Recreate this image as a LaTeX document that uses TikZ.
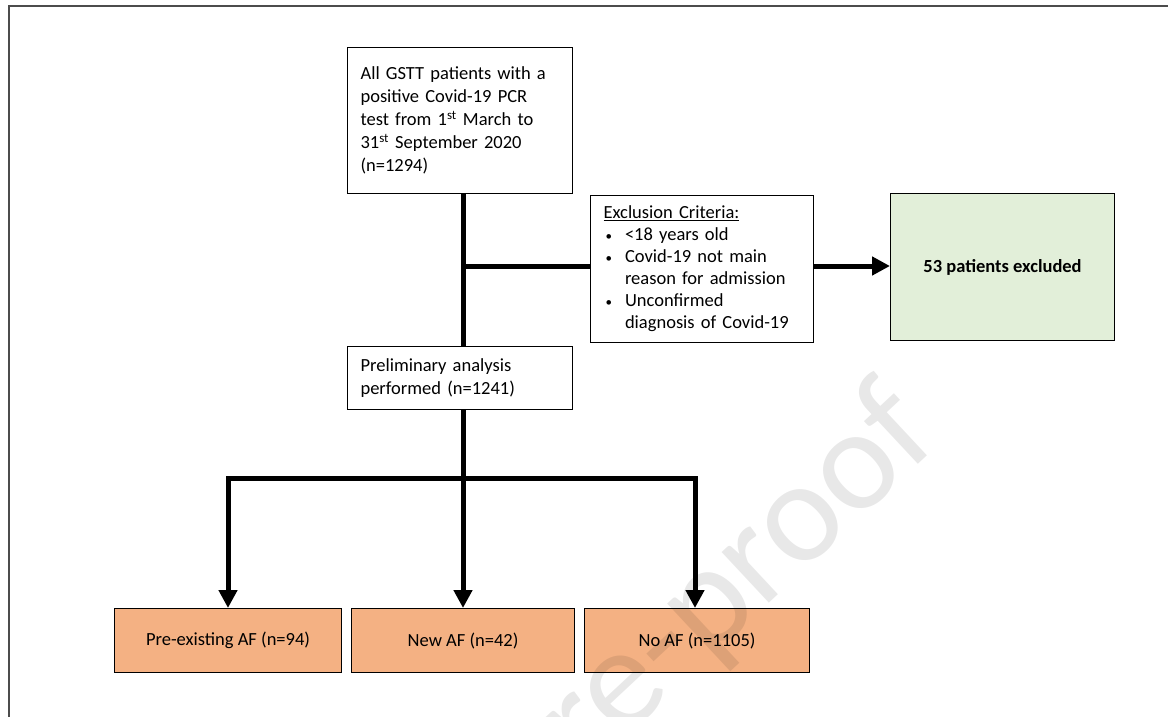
\documentclass[tikz,border=0pt]{standalone}
\usepackage{fontspec}
\setmainfont{Carlito}
\usetikzlibrary{arrows.meta}
\definecolor{orangefill}{HTML}{F4B183}
\definecolor{greenfill}{HTML}{E2EFD9}
\newcommand{\smallbullet}{{\fontsize{13}{13}\selectfont\textbullet}}
\begin{document}
\begin{tikzpicture}[x=1pt,y=-1pt,
  box/.style={draw=black, line width=1.1pt, inner sep=0pt, font=\fontsize{18.5}{23}\selectfont},
  lbox/.style={box, align=left, inner xsep=13pt},
  resbox/.style={box, fill=orangefill, anchor=north west, minimum height=64pt},
  link/.style={line width=5pt},
  tip/.tip={Triangle[length=18pt,width=18pt]},
  arr/.style={link, -tip},
  wmark/.style={text=black, text opacity=0.09, font=\fontsize{145}{145}\selectfont}
]
\useasboundingbox (0,0) rectangle (1168,717);
\fill[white] (0,0) rectangle (1168,717);
\draw[line width=1.6pt, black!70] (9,717) -- (9,6) -- (1168,6);

\node[lbox, anchor=north west, minimum width=225pt, minimum height=146pt, text width=199pt] (all) at (347,47)
  {All GSTT patients with a\\ positive Covid-19 PCR\\ test from 1\textsuperscript{st} March to\\ 31\textsuperscript{st} September 2020\\ (n=1294)};

\node[lbox, anchor=north west, minimum width=223pt, minimum height=147pt, text width=197pt] (excl) at (590,195)
  {\fontsize{18.5}{22}\selectfont
   \begin{tabular}{@{\hspace{2pt}}l@{\hspace{13pt}}l@{}}
   \multicolumn{2}{@{}l@{}}{\underline{Exclusion Criteria:}}\\
   \smallbullet & <18 years old\\
   \smallbullet & Covid-19 not main\\
                & reason for admission\\
   \smallbullet & Unconfirmed\\
                & diagnosis of Covid-19
   \end{tabular}};

\node[box, fill=greenfill, anchor=north west, minimum width=224pt, minimum height=147pt, font=\fontsize{18.5}{23}\selectfont\bfseries] (excluded) at (890,193)
  {53 patients excluded};

\node[lbox, anchor=north west, minimum width=225pt, minimum height=63pt, text width=199pt] (prelim) at (347,346)
  {Preliminary analysis\\ performed (n=1241)};

\node[resbox, minimum width=227pt] (preaf) at (114,608) {Pre-existing AF (n=94)};
\node[resbox, minimum width=223pt] (newaf) at (351,608) {New AF (n=42)};
\node[resbox, minimum width=225pt] (noaf) at (584,608) {No AF (n=1105)};

\coordinate (j1) at (463,266);
\coordinate (j2) at (463,478);
\coordinate (bl) at (228,478);
\coordinate (br) at (695,478);

\draw[link] (all.south -| j1) -- (prelim.north -| j1);
\draw[link] (j1) -- (excl.west |- j1);
\draw[arr] (excl.east |- j1) -- (excluded.west |- j1);
\draw[link] (prelim.south -| j2) -- (j2);
\draw[link, tip-tip] (preaf.north -| bl) -- (bl) -- (br) -- (noaf.north -| br);
\draw[arr] (j2) -- (newaf.north -| j2);

\node[wmark, rotate=43, anchor=base east] (wm) at (945,440) {Journal Pre-proof};
\end{tikzpicture}
\end{document}
